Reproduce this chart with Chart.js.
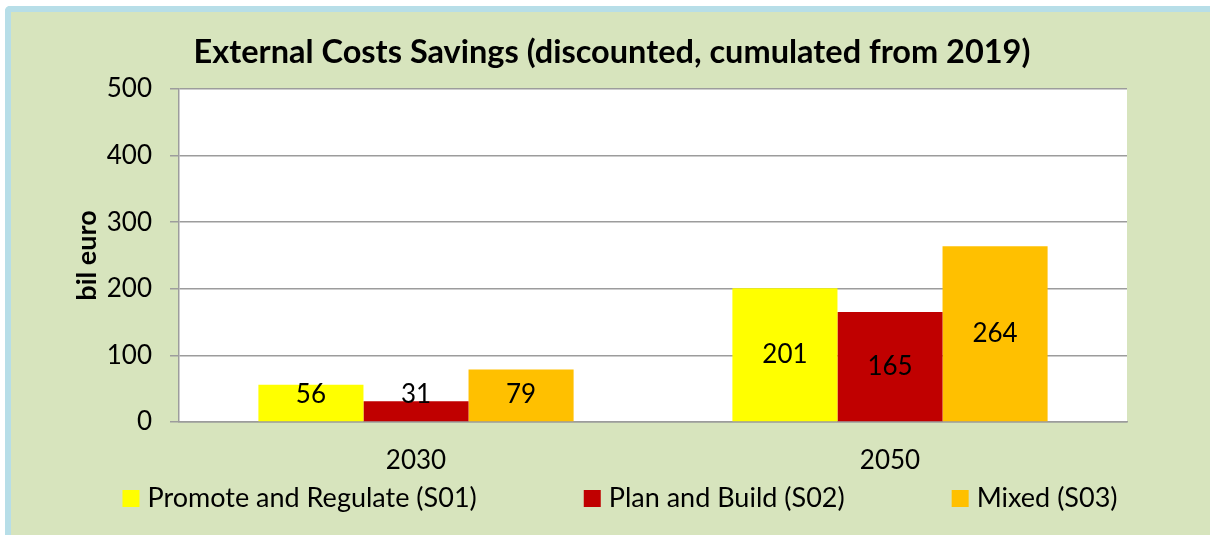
<!DOCTYPE html>
<html>
<head>
<meta charset="utf-8">
<script src="https://cdn.jsdelivr.net/npm/chart.js@4/dist/chart.umd.min.js"></script>
<style>
  html, body { margin: 0; padding: 0; background: #fff; overflow: hidden; }
  .frame {
    position: absolute; left: 5px; top: 6px; width: 1230px; height: 560px;
    border-top: 6px solid #b7dee8; border-left: 6px solid #b7dee8;
    border-top-left-radius: 5px; background: #d7e4bd;
  }
  .wrap { position: absolute; left: 0; top: 0; width: 1210px; height: 535px; }
</style>
</head>
<body>
<div class="frame"></div>
<div class="wrap"><canvas id="chart"></canvas></div>
<script>
const categories = ["2030", "2050"];
const seriesNames = ["Promote and Regulate (S01)", "Plan and Build (S02)", "Mixed (S03)"];
const promoteValues = [56, 201];
const planValues = [31, 165];
const mixedValues = [79, 264];
const yMax = 500;
const yStep = 100;

const FONT = "Lato, 'Open Sans', sans-serif";
const gridGray = "#9c9c9c";

const plotBackground = {
  id: "plotBackground",
  beforeDraw(chart) {
    const { ctx, chartArea: a } = chart;
    ctx.save();
    ctx.fillStyle = "#ffffff";
    ctx.fillRect(a.left, a.top, a.right - a.left, a.bottom - a.top);
    ctx.restore();
  },
};

const barValues = {
  id: "barValues",
  afterDatasetsDraw(chart) {
    const { ctx } = chart;
    ctx.save();
    ctx.font = "26px " + FONT;
    ctx.fillStyle = "#000";
    ctx.textAlign = "center";
    ctx.textBaseline = "middle";
    chart.data.datasets.forEach((ds, i) => {
      chart.getDatasetMeta(i).data.forEach((bar, j) => {
        const mid = (bar.y + bar.base) / 2;
        const y = Math.min(mid, bar.base - 27);
        ctx.fillText(String(ds.data[j]), bar.x, y);
      });
    });
    ctx.restore();
  },
};

// legend drawn by hand so the gaps between entries can be wide
const wideLegend = {
  id: "wideLegend",
  afterDraw(chart) {
    const { ctx } = chart;
    const box = 17, boxGap = 8, itemGap = 107, centerX = 620, midY = 497;
    ctx.save();
    ctx.font = "27px " + FONT;
    ctx.textBaseline = "middle";
    const items = chart.data.datasets.map(ds => ({
      text: ds.label, color: ds.backgroundColor, w: box + boxGap + ctx.measureText(ds.label).width,
    }));
    const total = items.reduce((s, it) => s + it.w, 0) + itemGap * (items.length - 1);
    let x = centerX - total / 2;
    items.forEach(it => {
      ctx.fillStyle = it.color;
      ctx.fillRect(x, midY - 7, box, box);
      ctx.fillStyle = "#000";
      ctx.fillText(it.text, x + box + boxGap, midY + 1);
      x += it.w + itemGap;
    });
    ctx.restore();
  },
};

new Chart(document.getElementById("chart"), {
  type: "bar",
  data: {
    labels: categories,
    datasets: [
      { label: seriesNames[0], data: promoteValues, backgroundColor: "#ffff00" },
      { label: seriesNames[1], data: planValues, backgroundColor: "#c00000" },
      { label: seriesNames[2], data: mixedValues, backgroundColor: "#ffc000" },
    ],
  },
  options: {
    responsive: true,
    maintainAspectRatio: false,
    animation: false,
    layout: { padding: { left: 14, right: 0, top: 0, bottom: 57 } },
    datasets: { bar: { barPercentage: 1, categoryPercentage: 0.665 } },
    plugins: {
      legend: { display: false },
      tooltip: { enabled: false },
      title: {
        display: true,
        text: "External Costs Savings (discounted, cumulated from 2019)",
        color: "#000",
        font: { family: FONT, size: 32.5, weight: "bold" },
        padding: { top: 33.5, bottom: 16.5 },
      },
    },
    scales: {
      x: {
        afterFit: s => { s.height = 56; },
        grid: { display: false, drawTicks: false },
        border: { display: true, color: gridGray, width: 1.5 },
        ticks: { color: "#000", font: { family: FONT, size: 26 }, padding: 23 },
      },
      y: {
        min: 0,
        max: yMax,
        afterFit: s => { s.width = 165; },
        grid: { color: gridGray, lineWidth: 1.5, tickLength: 9 },
        border: { display: true, color: gridGray, width: 1.5 },
        ticks: { stepSize: yStep, color: "#000", font: { family: FONT, size: 26 }, padding: 18 },
        title: {
          display: true,
          text: "bil euro",
          color: "#000",
          font: { family: FONT, size: 27, weight: "bold" },
          padding: { top: 57, bottom: 0 },
        },
      },
      spacer: {
        position: "right",
        display: true,
        afterFit: s => { s.width = 83; },
        grid: { display: false },
        border: { display: false },
        ticks: { display: false },
      },
    },
  },
  plugins: [plotBackground, barValues, wideLegend],
});
</script>
</body>
</html>
